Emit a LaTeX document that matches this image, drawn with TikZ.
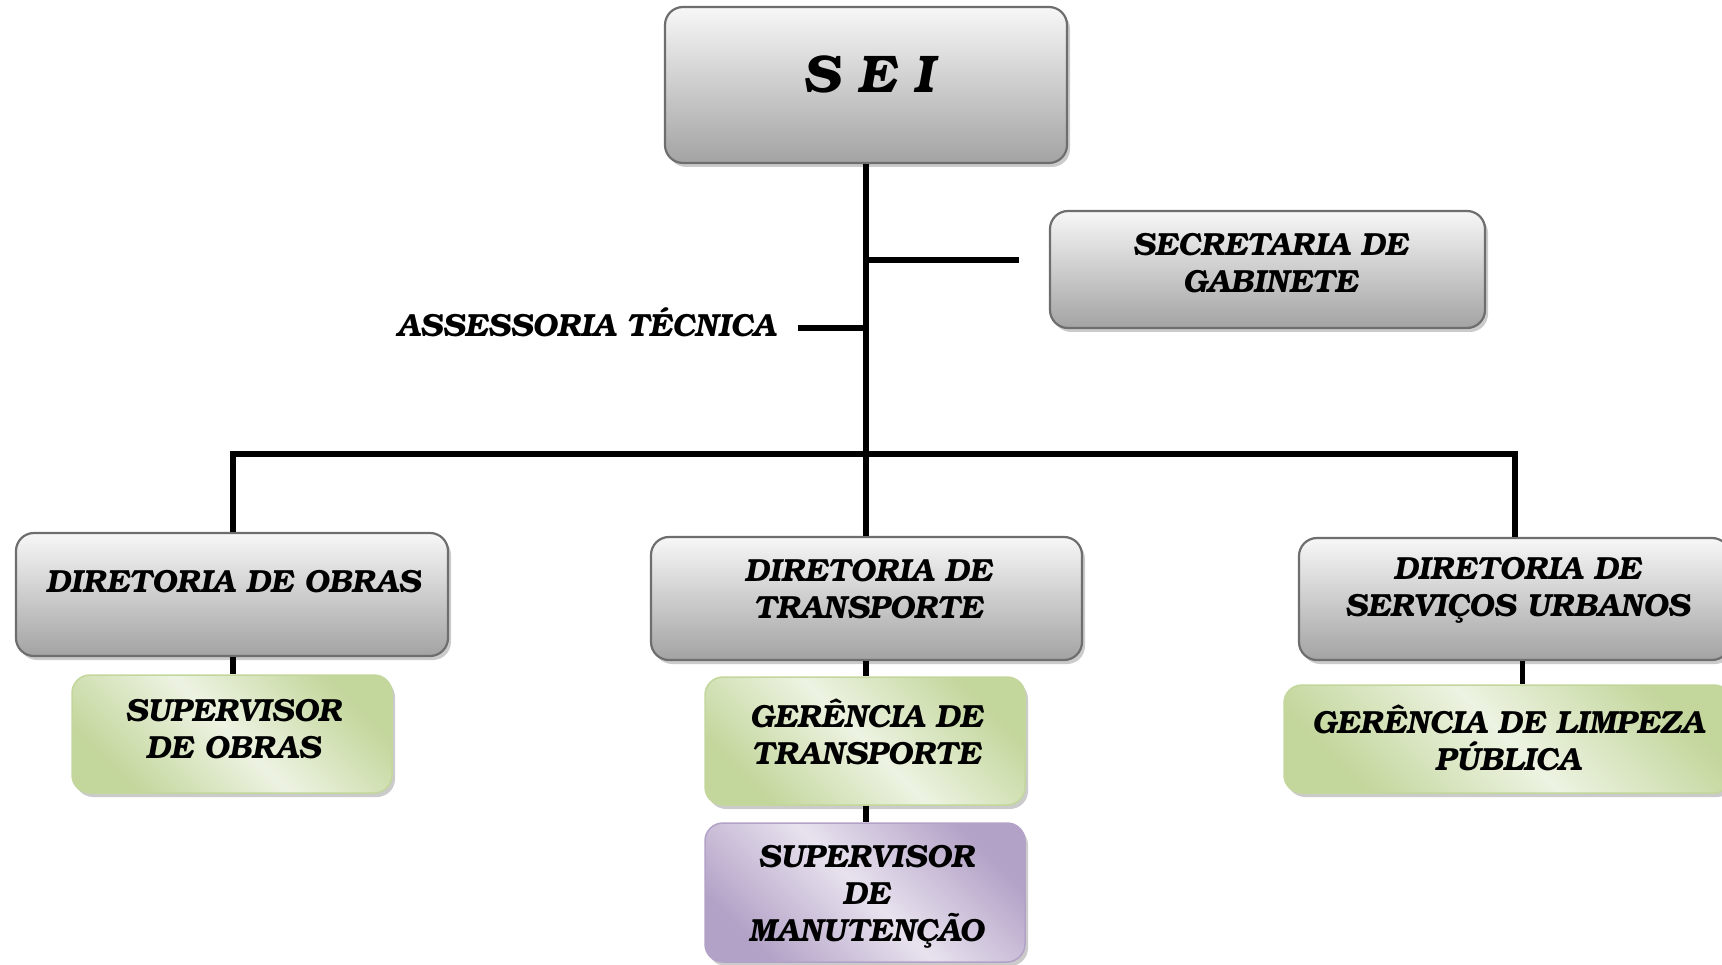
\documentclass[tikz,border=0pt]{standalone}
\usepackage{fontspec}
\newfontfamily\bk{texgyrebonum-bolditalic.otf}
\usetikzlibrary{shadows}
\definecolor{gtop}{HTML}{F7F7F7}
\definecolor{gbot}{HTML}{A3A3A3}
\definecolor{gborder}{HTML}{6E6E6E}
\definecolor{grnD}{HTML}{C3D69B}
\definecolor{grnL}{HTML}{EDF3E2}
\definecolor{purD}{HTML}{B3A2C7}
\definecolor{purL}{HTML}{E8E2EE}
\tikzset{
  boxbase/.style={rounded corners=18pt, inner sep=0pt,
    drop shadow={shadow xshift=3pt, shadow yshift=-4pt, fill=black!45, opacity=0.45}},
  graybox/.style={boxbase, draw=gborder, line width=2.2pt, top color=gtop, bottom color=gbot},
  greenbox/.style={boxbase, draw=grnD, line width=1.5pt, top color=grnD, bottom color=grnD, middle color=grnL, shading angle=-45},
  purplebox/.style={boxbase, draw=purD, line width=1.5pt, top color=purD, bottom color=purD, middle color=purL, shading angle=-45},
  lbl/.style={font=\bk\fontsize{32}{37}\selectfont, align=center, inner sep=0pt},
  conn/.style={line width=5.5pt, black}
}
\begin{document}
\begin{tikzpicture}[x=1pt,y=-1pt]
\useasboundingbox (0,0) rectangle (1722,965);
\clip (0,0) rectangle (1722,965);
% boxes
\node[graybox, minimum width=402pt, minimum height=156pt] (sei) at (866,85) {};
\node[graybox, minimum width=435pt, minimum height=117pt] (gab) at (1267.5,269.5) {};
\node[graybox, minimum width=432pt, minimum height=123pt] (dob) at (232,594.5) {};
\node[graybox, minimum width=431pt, minimum height=123pt] (dtr) at (866.5,598.5) {};
\node[graybox, minimum width=431pt, minimum height=122pt] (dsu) at (1514.5,599) {};
\node[greenbox, minimum width=320pt, minimum height=118pt] (sob) at (232,734) {};
\node[greenbox, minimum width=320pt, minimum height=128pt] (gtr) at (865,741) {};
\node[greenbox, minimum width=448pt, minimum height=108pt] (glp) at (1508,739) {};
\node[purplebox, minimum width=320pt, minimum height=139pt] (smn) at (865,892.5) {};
% texts
\node[lbl, font=\bk\fontsize{53}{60}\selectfont] (seit) at (868,74) {S E I};
\node[lbl] (gabt) at (1270,263) {SECRETARIA DE\\GABINETE};
\node[lbl] (dobt) at (233,582) {DIRETORIA DE OBRAS};
\node[lbl] (dtrt) at (868,589) {DIRETORIA DE\\TRANSPORTE};
\node[lbl] (dsut) at (1517,590) {DIRETORIA DE\\SERVIÇOS URBANOS};
\node[lbl] (sobt) at (233,729) {SUPERVISOR\\DE OBRAS};
\node[lbl] (gtrt) at (866,732) {GERÊNCIA DE\\TRANSPORTE};
\node[lbl] (glpt) at (1508,738) {GERÊNCIA DE LIMPEZA\\PÚBLICA};
\node[lbl] (smnt) at (866,897) {SUPERVISOR\\DE\\MANUTENÇÃO};
\node[lbl] (ases) at (586,322) {ASSESSORIA TÉCNICA};
% coordinates
\coordinate (gabj) at (866,260);
\coordinate (gabe) at (1019,260);
\coordinate (asj) at (866,328);
\coordinate (ase) at (798,328);
\coordinate (busL) at (233,454);
\coordinate (busR) at (1515,454);
% connectors
\draw[conn] (sei.south) -- (dtr.north -| sei.south);
\draw[conn] (gabj) -- (gabe);
\draw[conn] (asj) -- (ase);
\draw[conn] ([xshift=-2.75pt]busL) -- ([xshift=2.75pt]busR);
\draw[conn] (busL) -- (dob.north -| busL);
\draw[conn] (busR) -- (dsu.north -| busR);
\draw[conn] (dob.south -| busL) -- (sob.north -| busL);
\draw[conn] (dtr.south -| sei.south) -- (gtr.north -| sei.south);
\draw[conn] (gtr.south -| sei.south) -- (smn.north -| sei.south);
\draw[conn] ([xshift=8pt]dsu.south) -- ([xshift=8pt]dsu.south |- glp.north);
\end{tikzpicture}
\end{document}
